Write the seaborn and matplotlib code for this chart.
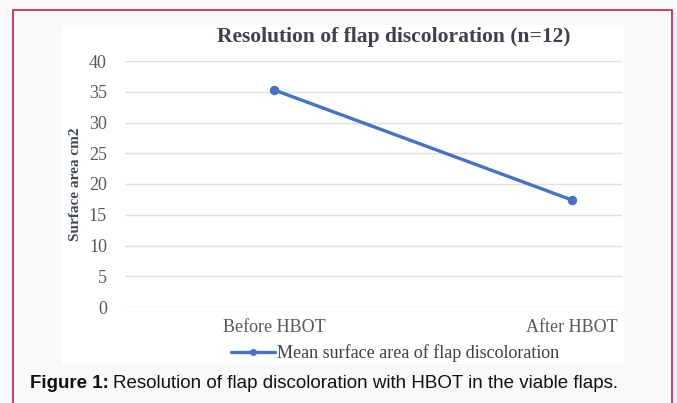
import matplotlib
matplotlib.use("Agg")
import matplotlib.pyplot as plt
from matplotlib.patches import Rectangle
from matplotlib.lines import Line2D
import seaborn as sns
import pandas as pd

categories = ["Before HBOT", "After HBOT"]
mean_area = [35.3, 17.4]
series_name = "Mean surface area of flap discoloration"
y_ticks = [0, 5, 10, 15, 20, 25, 30, 35, 40]

sns.set_theme(style="white")
plt.rcParams["font.family"] = ["Liberation Serif", "DejaVu Serif"]

W, H = 677, 403
fig = plt.figure(figsize=(W / 100, H / 100), dpi=100)
fig.patch.set_facecolor("#fbf8f9")

def fx(px):
    return px / W

def fy(py):
    return 1 - py / H

# white chart panel and the outer red frame
fig.add_artist(Rectangle((fx(62), fy(364)), fx(624) - fx(62), fy(25) - fy(364),
                         transform=fig.transFigure, facecolor="white",
                         edgecolor="none", zorder=0))
fig.add_artist(Rectangle((fx(13), fy(420)), fx(672) - fx(13), fy(10) - fy(420),
                         transform=fig.transFigure, facecolor="none",
                         edgecolor="#c41e45", linewidth=1.2, zorder=5,
                         clip_on=False))

ax = fig.add_axes([fx(125), fy(307), fx(622) - fx(125), fy(61) - fy(307)])
ax.set_facecolor("none")

df = pd.DataFrame({"stage": categories, "area": mean_area})
line_color = "#4472c4"
sns.lineplot(data=df, x="stage", y="area", ax=ax, color=line_color,
             linewidth=2.4, marker="o", markersize=6, markeredgecolor=line_color,
             sort=False)

ax.set_ylim(0, 40)
ax.set_xlim(-0.5, 1.168)
ax.set_yticks(y_ticks)
ax.yaxis.grid(True, color="#e0e0e0", linewidth=1.0)
ax.set_axisbelow(True)
for s in ax.spines.values():
    s.set_visible(False)
ax.tick_params(axis="both", length=0, colors="#595959", labelsize=13)
ax.tick_params(axis="y", pad=13)
ax.tick_params(axis="x", pad=9)
ax.set_xlabel("")
ax.set_ylabel("Surface area cm2", fontsize=11, fontweight="bold",
              color="#404a5a", labelpad=5)

fig.text(fx(394), fy(37), "Resolution of flap discoloration (n=12)",
         ha="center", va="center", fontsize=15.5, fontweight="bold",
         color="#3b4150")

handle = Line2D([], [], color=line_color, linewidth=2.4, marker="o",
                markersize=4)
fig.legend([handle], [series_name], loc="center", bbox_to_anchor=(fx(395), fy(353)),
           frameon=False, fontsize=13, handlelength=2.4, handletextpad=0.1,
           labelcolor="#404040")

sans = ["Liberation Sans", "DejaVu Sans"]
t1 = fig.text(fx(30), fy(384), "Figure 1:", ha="left", va="center",
              fontsize=13.5, fontweight="bold", family=sans, color="#111111")
renderer = fig.canvas.get_renderer()
bb = t1.get_window_extent(renderer=renderer)
fig.text((bb.x1 + 4) / W, fy(384),
         "Resolution of flap discoloration with HBOT in the viable flaps.",
         ha="left", va="center", fontsize=13.5, family=sans, color="#111111")

fig.savefig("out.png", dpi=100, facecolor=fig.get_facecolor())
